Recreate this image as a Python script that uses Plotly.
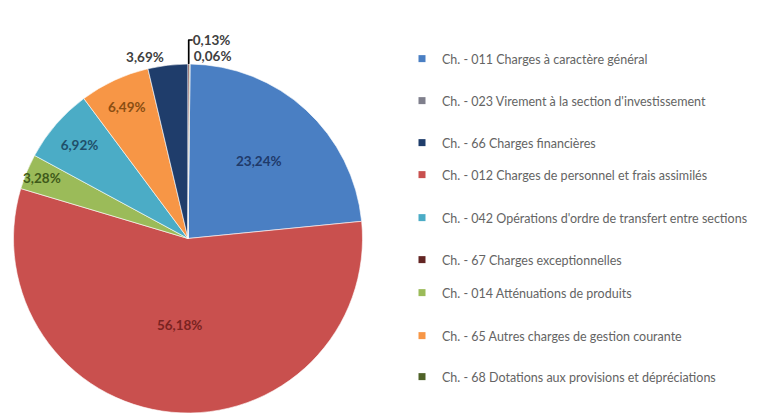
import plotly.graph_objects as go

# ---- data -----------------------------------------------------------------
# slices, clockwise from 12 o'clock, as drawn in the pie
slice_codes = ["011", "012", "014", "042", "65", "66", "67", "68"]
slice_values = [23.24, 56.18, 3.28, 6.92, 6.49, 3.69, 0.13, 0.06]

# legend entries, in legend order
legend_codes = ["011", "023", "66", "012", "042", "67", "014", "65", "68"]
legend_names = [
    "Ch. - 011 Charges à caractère général",
    "Ch. - 023 Virement à la section d'investissement",
    "Ch. - 66 Charges financières",
    "Ch. - 012 Charges de personnel et frais assimilés",
    "Ch. - 042 Opérations d'ordre de transfert entre sections",
    "Ch. - 67 Charges exceptionnelles",
    "Ch. - 014 Atténuations de produits",
    "Ch. - 65 Autres charges de gestion courante",
    "Ch. - 68 Dotations aux provisions et dépréciations",
]
legend_ypx = [59, 101, 143, 175, 218, 260, 293, 336, 377]

colors = {
    "011": "#4A7FC3", "023": "#7F7F8C", "66": "#1F3D6B", "012": "#C9504E",
    "042": "#4BACC6", "67": "#632523", "014": "#9BBB59", "65": "#F79646",
    "68": "#4F6228",
}
text_colors = {
    "011": "#1F3A6A", "012": "#7A2321", "014": "#3F5A1A", "042": "#1F4F6A",
    "65": "#8A4E12", "66": "#404040", "67": "#404040", "68": "#404040",
}
positions = ["inside", "inside", "inside", "inside", "inside",
             "outside", "outside", "outside"]

# the page body adds an 8px offset, so the figure is 8px smaller and all
# positions below are given relative to the visible window minus 8px
OFF = 8
W, H = 769 - OFF, 413 - OFF
name_of = dict(zip(legend_codes, legend_names))

# the two tiny slices end exactly at 12 o'clock: rotate the start so
total = sum(slice_values)
rot = (slice_values[-1] + slice_values[-2]) / total * 360

cx, cy, r = 188 - OFF, 238.5 - OFF, 174.5
fig = go.Figure()
fig.add_trace(go.Pie(
    labels=[name_of[c] for c in slice_codes],
    values=slice_values,
    sort=False,
    direction="clockwise",
    rotation=rot,
    marker=dict(colors=[colors[c] for c in slice_codes],
                line=dict(color="rgba(255,255,255,0.6)", width=1)),
    texttemplate="%{value:.2f}%",
    textposition=positions,
    insidetextorientation="horizontal",
    textfont=dict(family="Lato", size=13.5, weight="bold",
                  color=[text_colors[c] for c in slice_codes]),
    domain=dict(x=[(cx - r - 5) / W, (cx + r + 5) / W],
                y=[1 - (cy + r) / H, 1 - (cy - r) / H]),
    showlegend=False,
    hoverinfo="label+percent",
))

layout_legends = {}
for i, (code, name, ypx) in enumerate(zip(legend_codes, legend_names, legend_ypx)):
    lname = "legend" if i == 0 else f"legend{i + 1}"
    fig.add_trace(go.Scatter(
        x=[None], y=[None], mode="markers", name=name,
        marker=dict(symbol="square", size=7, color=colors[code]),
        legend=lname, showlegend=True,
    ))
    layout_legends[lname] = dict(
        x=(402 - OFF) / W, xanchor="left", y=1 - (ypx - OFF) / H, yanchor="middle",
        bgcolor="rgba(0,0,0,0)", borderwidth=0,
        font=dict(family="Lato", size=12.5, color="#646464"),
    )

fig.update_layout(
    width=W, height=H,
    margin=dict(l=0, r=0, t=0, b=0, autoexpand=False),
    paper_bgcolor="white", plot_bgcolor="white",
    separators=", ",
    uniformtext=dict(minsize=13.5, mode="show"),
    xaxis=dict(visible=False), yaxis=dict(visible=False),
    **layout_legends,
)

fig.write_html("out.html")
